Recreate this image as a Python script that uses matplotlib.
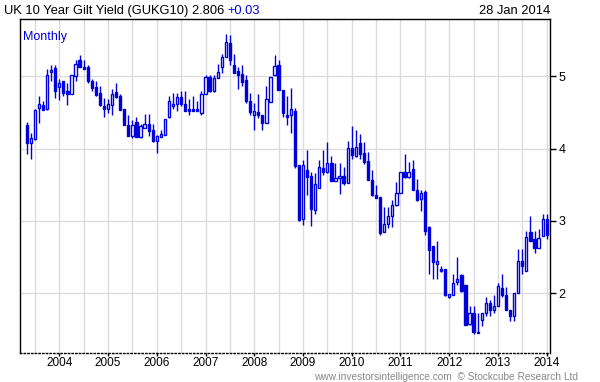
import matplotlib
matplotlib.use("Agg")
import matplotlib.pyplot as plt
import numpy as np
import pandas as pd

plt.rcParams["font.family"] = ["Liberation Sans", "DejaVu Sans"]

# Месячные свечи доходности 10-летних гилтов (май 2003 - январь 2014)
months = pd.date_range("2003-05-01", periods=129, freq="MS")

opens = [4.32, 4.08, 4.13, 4.56, 4.60, 4.54, 5.06, 5.11, 4.85, 4.93, 4.80, 4.75, 5.00,
         5.22, 5.13, 5.12, 4.94, 4.85, 4.77, 4.59, 4.55, 4.60, 4.78, 4.73, 4.54, 4.33,
         4.17, 4.37, 4.16, 4.29, 4.34, 4.25, 4.10, 4.16, 4.19, 4.43, 4.59, 4.61, 4.71,
         4.62, 4.54, 4.54, 4.54, 4.49, 4.75, 4.99, 4.79, 4.98, 5.12, 5.26, 5.46, 5.15,
         5.07, 5.03, 4.95, 4.65, 4.47, 4.50, 4.47, 4.35, 4.64, 5.02, 5.16, 4.81, 4.46,
         4.46, 4.52, 3.77, 3.02, 3.70, 3.62, 3.15, 3.46, 3.73, 3.68, 3.80, 3.55, 3.59,
         3.62, 3.52, 4.01, 3.89, 4.07, 3.94, 3.83, 3.56, 3.36, 3.33, 2.84, 2.95, 3.07,
         3.22, 3.39, 3.68, 3.60, 3.72, 3.43, 3.30, 3.40, 2.92, 2.65, 2.41, 2.34, 2.33,
         1.95, 1.97, 2.15, 2.25, 2.11, 1.57, 1.73, 1.47, 1.63, 1.73, 1.86, 1.77, 1.83,
         2.07, 1.97, 1.77, 1.69, 2.01, 2.45, 2.31, 2.84, 2.75, 2.63, 2.79, 3.03]
highs = [4.36, 4.22, 4.55, 4.72, 4.66, 5.10, 5.15, 5.15, 4.96, 4.94, 4.91, 5.01, 5.23,
         5.29, 5.22, 5.15, 4.96, 4.93, 4.86, 4.70, 4.68, 4.82, 4.91, 4.75, 4.54, 4.47,
         4.39, 4.44, 4.34, 4.48, 4.48, 4.34, 4.19, 4.25, 4.41, 4.72, 4.77, 4.77, 4.79,
         4.79, 4.68, 4.72, 4.66, 4.79, 5.02, 5.02, 5.02, 5.17, 5.30, 5.58, 5.57, 5.31,
         5.12, 5.16, 5.02, 4.77, 4.63, 4.75, 4.47, 4.86, 4.99, 5.29, 5.22, 4.81, 4.72,
         4.84, 4.56, 3.77, 3.84, 3.98, 3.68, 3.66, 3.84, 3.98, 4.09, 3.90, 3.80, 3.80,
         3.75, 4.11, 4.31, 4.25, 4.20, 4.09, 3.95, 3.70, 3.50, 3.33, 3.19, 3.19, 3.29,
         3.54, 3.67, 3.93, 3.82, 3.84, 3.58, 3.42, 3.43, 2.93, 2.65, 2.72, 2.37, 2.33,
         1.99, 2.26, 2.50, 2.27, 2.11, 1.82, 1.82, 1.73, 1.73, 1.95, 1.91, 1.98, 2.14,
         2.26, 2.09, 1.77, 2.00, 2.61, 2.61, 2.86, 3.07, 2.86, 2.89, 3.09, 3.09]
lows = [3.93, 3.85, 4.12, 4.35, 4.53, 4.53, 4.93, 4.70, 4.67, 4.72, 4.60, 4.75, 4.94,
        5.12, 5.10, 4.91, 4.79, 4.72, 4.59, 4.43, 4.49, 4.47, 4.70, 4.53, 4.32, 4.17,
        4.14, 4.16, 4.15, 4.29, 4.17, 4.09, 3.94, 4.16, 4.19, 4.42, 4.55, 4.52, 4.59,
        4.52, 4.46, 4.52, 4.52, 4.46, 4.75, 4.78, 4.78, 4.98, 5.05, 5.26, 5.16, 5.04,
        4.82, 4.86, 4.63, 4.46, 4.26, 4.42, 4.26, 4.35, 4.64, 5.00, 4.81, 4.44, 4.33,
        4.21, 3.73, 3.00, 2.94, 3.36, 2.93, 3.10, 3.45, 3.63, 3.66, 3.55, 3.55, 3.37,
        3.49, 3.52, 3.86, 3.88, 3.86, 3.79, 3.56, 3.34, 3.31, 2.81, 2.84, 2.90, 2.92,
        3.20, 3.39, 3.59, 3.59, 3.42, 3.27, 3.14, 2.81, 2.26, 2.19, 2.20, 2.29, 1.96,
        1.93, 1.97, 2.11, 2.02, 1.56, 1.56, 1.43, 1.45, 1.55, 1.69, 1.68, 1.73, 1.82,
        1.95, 1.77, 1.62, 1.62, 2.00, 2.26, 2.31, 2.72, 2.55, 2.63, 2.79, 2.75]
closes = [4.07, 4.15, 4.53, 4.61, 4.53, 5.02, 5.09, 4.80, 4.91, 4.77, 4.75, 5.01, 5.17,
          5.12, 5.10, 4.93, 4.84, 4.74, 4.60, 4.55, 4.62, 4.75, 4.71, 4.53, 4.32, 4.17,
          4.33, 4.16, 4.31, 4.34, 4.24, 4.10, 4.17, 4.20, 4.41, 4.65, 4.62, 4.71, 4.61,
          4.52, 4.52, 4.52, 4.52, 4.75, 4.99, 4.79, 4.98, 5.06, 5.26, 5.47, 5.23, 5.04,
          5.01, 4.92, 4.65, 4.51, 4.52, 4.47, 4.35, 4.69, 4.99, 5.14, 4.81, 4.49, 4.44,
          4.54, 3.76, 3.01, 3.77, 3.61, 3.16, 3.51, 3.74, 3.68, 3.80, 3.55, 3.59, 3.62,
          3.52, 4.01, 3.91, 4.02, 3.93, 3.82, 3.57, 3.36, 3.32, 2.83, 2.95, 3.07, 3.22,
          3.39, 3.67, 3.60, 3.68, 3.42, 3.29, 3.39, 2.86, 2.60, 2.43, 2.44, 2.31, 1.97,
          1.99, 2.14, 2.20, 2.03, 1.56, 1.73, 1.46, 1.45, 1.73, 1.86, 1.77, 1.83, 2.10,
          1.98, 1.77, 1.69, 2.00, 2.45, 2.37, 2.78, 2.72, 2.62, 2.77, 3.03, 2.81]

year_ticks = list(range(2004, 2015))
price_ticks = [2, 3, 4, 5]

blue = "#0000dd"

# Даты в дробные годы
x = months.year + (months.month - 1) / 12.0
o = np.array(opens)
h = np.array(highs)
l = np.array(lows)
c = np.array(closes)
up = c >= o

fig = plt.figure(figsize=(6, 3.82), dpi=100)
ax = fig.add_axes([20 / 600, 1 - 353 / 382, 530 / 600, 334 / 382])

# Сетка
for yr in np.arange(2003.5, 2014.1, 0.5):
    ax.axvline(yr, color="#dcdcdc", lw=1, zorder=0)
for p in price_ticks:
    ax.axhline(p, color="#dcdcdc", lw=1, zorder=0)

# Свечи: тени, потом тела
ax.vlines(x, l, h, color=blue, lw=1, zorder=2)
w = 0.55 / 12
ax.bar(x[up], (c - o)[up], bottom=o[up], width=w, facecolor="white",
       edgecolor=blue, linewidth=1, zorder=3)
ax.bar(x[~up], (o - c)[~up], bottom=c[~up], width=w, facecolor=blue,
       edgecolor=blue, linewidth=1, zorder=3)

ax.set_xlim(2003.194, 2014.068)
ax.set_ylim(1.174, 5.79)

ax.yaxis.tick_right()
ax.set_yticks(price_ticks)
ax.set_yticklabels([str(p) for p in price_ticks], fontsize=9)
ax.set_xticks(year_ticks)
ax.set_xticklabels([str(y) for y in year_ticks], fontsize=8.5)
ax.tick_params(axis="y", length=4, width=1, pad=2)
ax.tick_params(axis="x", length=2, width=1, pad=1)

for side in ["left", "right", "top"]:
    ax.spines[side].set_color("black")
    ax.spines[side].set_linewidth(1)
ax.spines["bottom"].set_linestyle(":")
ax.spines["bottom"].set_linewidth(1)

ax.text(0.006, 0.965, "Monthly", transform=ax.transAxes, color=blue,
        fontsize=9, va="top", ha="left")

t1 = fig.text(4 / 600, 1 - 11 / 382, "UK 10 Year Gilt Yield (GUKG10) 2.806 ",
              fontsize=9.3, va="center", ha="left")
ax.annotate("+0.03", xy=(1, 0), xycoords=t1, color=blue, fontsize=9.3,
            va="bottom", ha="left")
fig.text(550 / 600, 1 - 11 / 382, "28 Jan 2014", fontsize=9.3, va="center", ha="right")
fig.text(578 / 600, 1 - 377 / 382,
         "www.investorsintelligence.com  \u00a9 Stockcube Research Ltd",
         fontsize=7.3, color="#888888", va="center", ha="right")

fig.savefig("out.png", dpi=100)
